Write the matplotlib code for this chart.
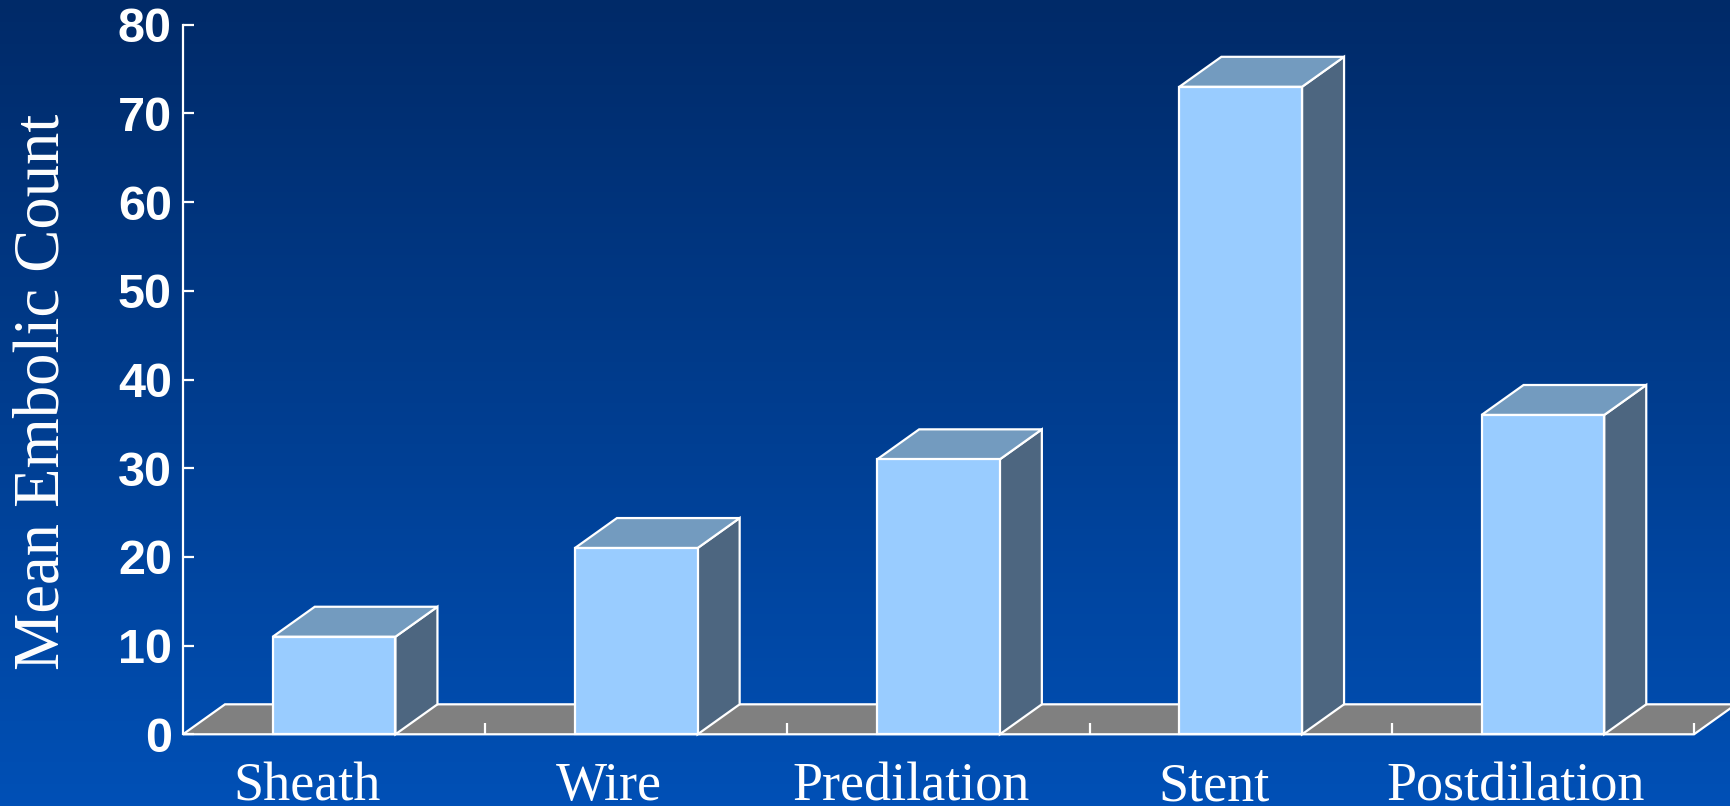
import numpy as np
import matplotlib
matplotlib.use("Agg")
import matplotlib.pyplot as plt
from matplotlib.patches import Polygon
from matplotlib.colors import LinearSegmentedColormap

# Data
categories = ["Sheath", "Wire", "Predilation", "Stent", "Postdilation"]
mean_embolic_count = [11, 21, 31, 73, 36]
y_ticks = [0, 10, 20, 30, 40, 50, 60, 70, 80]

# Style
FRONT = "#99CCFF"
TOP = "#739BBF"
SIDE = "#4D6680"
FLOOR = "#808080"
EDGE = "white"
BG_TOP = "#002A68"
BG_BOTTOM = "#0050B6"

W, H, DPI = 1731, 806, 100
fig = plt.figure(figsize=(W / DPI, H / DPI), dpi=DPI)

# Gradient background
bg = fig.add_axes([0, 0, 1, 1], zorder=-10)
bg.set_axis_off()
cmap = LinearSegmentedColormap.from_list("bg", [BG_BOTTOM, BG_TOP])
grad = np.linspace(0, 1, 256).reshape(-1, 1)
bg.imshow(grad, aspect="auto", cmap=cmap, origin="lower", extent=[0, 1, 0, 1])

ax = fig.add_axes([183 / W, 71.7 / H, (1694 - 183) / W, (734.3 - 24.7) / H])
ax.patch.set_alpha(0)
n = len(categories)
ax.set_xlim(0, n)
ax.set_ylim(0, 80)

# Depth of the 3-D extrusion, in data units
dx, dy = 0.139, 3.38
bar_w = 0.406
lw = 1.6
label_shift = -0.09

# Floor
floor = Polygon([(0, 0), (n, 0), (n + dx, dy), (dx, dy)], closed=True,
                facecolor=FLOOR, edgecolor=EDGE, lw=lw, clip_on=False, zorder=1)
ax.add_patch(floor)

for i, v in enumerate(mean_embolic_count):
    x0 = i + 0.5 - bar_w / 2
    x1 = x0 + bar_w
    side = Polygon([(x1, 0), (x1 + dx, dy), (x1 + dx, v + dy), (x1, v)],
                   facecolor=SIDE, edgecolor=EDGE, lw=lw, clip_on=False, zorder=2)
    top = Polygon([(x0, v), (x1, v), (x1 + dx, v + dy), (x0 + dx, v + dy)],
                  facecolor=TOP, edgecolor=EDGE, lw=lw, clip_on=False, zorder=2)
    front = Polygon([(x0, 0), (x1, 0), (x1, v), (x0, v)],
                    facecolor=FRONT, edgecolor=EDGE, lw=lw, clip_on=False, zorder=3)
    for p in (side, top, front):
        ax.add_patch(p)
    ax.text(i + 0.5 + label_shift, -7.45, categories[i], ha="center", va="baseline",
            color="white", fontsize=39, family="Liberation Serif", clip_on=False)

# Axes
for s in ("top", "right", "bottom"):
    ax.spines[s].set_visible(False)
ax.spines["left"].set_color(EDGE)
ax.spines["left"].set_linewidth(lw)
ax.spines["left"].set_zorder(4)

ax.set_yticks(y_ticks)
ax.set_yticklabels([str(t) for t in y_ticks], fontsize=35, fontweight="bold",
                   family="Liberation Sans", color="white")
ax.tick_params(axis="y", direction="in", length=8, width=lw, color=EDGE, pad=8)

ax.set_xticks(np.arange(1, n + 1))
ax.set_xticklabels([])
ax.tick_params(axis="x", direction="in", length=8, width=lw, color=EDGE)
for t in ax.xaxis.get_major_ticks():
    t.tick1line.set_zorder(5)

fig.text(43 / W, (806 - 392) / H, "Mean Embolic Count", rotation=90,
         ha="center", va="center", color="white", fontsize=46.5,
         family="Liberation Serif")

fig.savefig("out.png", dpi=DPI)
